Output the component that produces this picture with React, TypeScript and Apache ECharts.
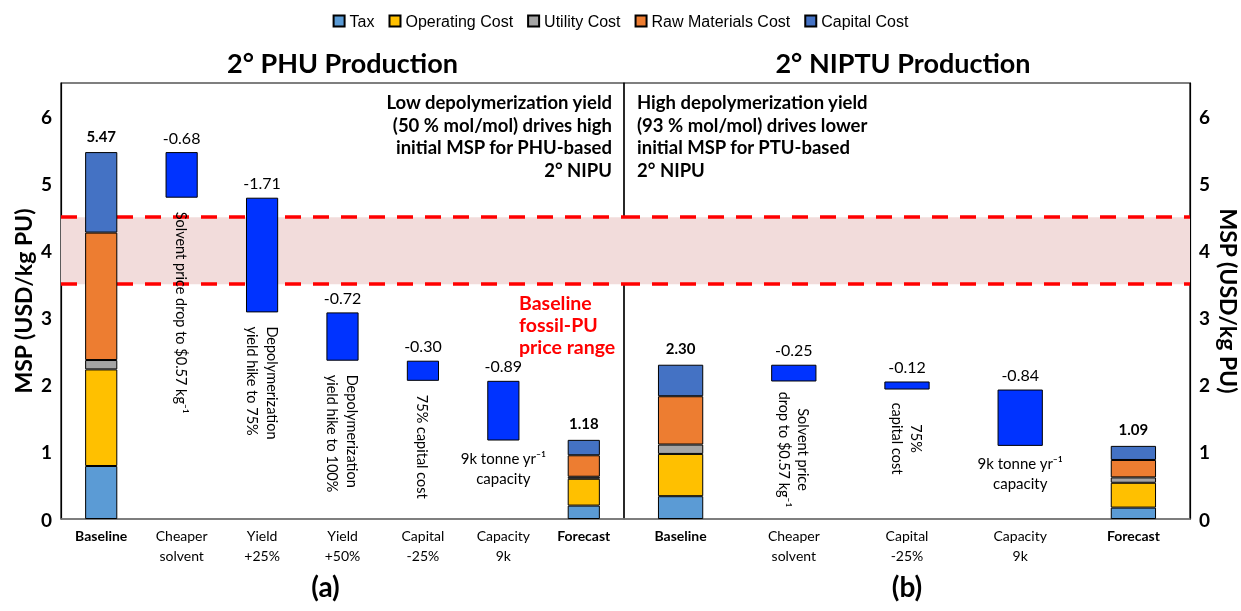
import { useEffect, useRef } from 'react';
import * as echarts from 'echarts';

const legendNames = ['Tax', 'Operating Cost', 'Utility Cost', 'Raw Materials Cost', 'Capital Cost'];
const costColors = ['#5B9BD5', '#FFC000', '#A5A5A5', '#ED7D31', '#4472C4'];
const stepColor = '#0033FF';

const catsA = ['Baseline', 'Cheaper\nsolvent', 'Yield\n+25%', 'Yield\n+50%', 'Capital\n-25%', 'Capacity\n9k', 'Forecast'];
const catsB = ['Baseline', 'Cheaper\nsolvent', 'Capital\n-25%', 'Capacity\n9k', 'Forecast'];

// cost breakdown: [tax, operating, utility, raw materials, capital]
const baselineA = [0.79, 1.44, 0.14, 1.90, 1.20];
const forecastA = [0.20, 0.40, 0.03, 0.32, 0.23];
const baselineB = [0.34, 0.63, 0.14, 0.72, 0.47];
const forecastB = [0.17, 0.37, 0.08, 0.26, 0.21];

const totalsA = [5.47, 1.18];
const totalsB = [2.30, 1.09];

const stepsA = [-0.68, -1.71, -0.72, -0.30, -0.89];
const stepsB = [-0.25, -0.12, -0.84];

const fossilRange = [3.5, 4.5];

const yTickLabels = ['0', '1', '2', '3', '4', '5', '6'];

const CAL = 'Lato, "Open Sans", sans-serif';
const ARN = '"Liberation Sans Narrow", "Liberation Sans", Arial, sans-serif';

function buildPanel(cats: string[], base: number[], fore: number[], totals: number[], steps: number[], idx: number) {
  const last = cats.length - 1;
  const series: any[] = [];
  legendNames.forEach((name, k) => {
    const s: any = {
      name,
      type: 'bar',
      stack: 'p' + idx,
      xAxisIndex: idx,
      yAxisIndex: idx,
      barWidth: '40%',
      z: 10,
      itemStyle: { color: costColors[k], borderColor: '#000', borderWidth: 1 },
      data: cats.map((_, i) => (i === 0 ? base[k] : i === last ? fore[k] : '-')),
    };
    if (k === legendNames.length - 1) {
      s.label = {
        show: true,
        position: 'top',
        distance: 9,
        fontFamily: CAL,
        fontWeight: 'bold',
        fontSize: 15,
        color: '#000',
        formatter: (p: any) => (p.dataIndex === 0 ? totals[0] : totals[1]).toFixed(2),
      };
    }
    if (k === 0) {
      s.markArea = {
        silent: true,
        itemStyle: { color: '#F2DCDB' },
        data: [[{ yAxis: fossilRange[0] }, { yAxis: fossilRange[1] }]],
      };
      s.markLine = {
        silent: true,
        symbol: 'none',
        label: { show: false },
        lineStyle: { color: '#FF0000', width: 3.5, type: [16, 12] },
        data: [{ yAxis: fossilRange[0] }, { yAxis: fossilRange[1] }],
      };
    }
    series.push(s);
  });
  // waterfall
  const ends: any[] = cats.map(() => '-');
  const deltas: any[] = cats.map(() => '-');
  let run = totals[0];
  steps.forEach((st, j) => {
    run = run + st;
    ends[j + 1] = +run.toFixed(2);
    deltas[j + 1] = -st;
  });
  series.push({
    name: 'base' + idx,
    type: 'bar',
    stack: 'p' + idx,
    xAxisIndex: idx,
    yAxisIndex: idx,
    barWidth: '40%',
    silent: true,
    z: 10,
    itemStyle: { color: 'rgba(0,0,0,0)', borderWidth: 0 },
    data: ends,
  });
  series.push({
    name: 'change' + idx,
    type: 'bar',
    stack: 'p' + idx,
    xAxisIndex: idx,
    yAxisIndex: idx,
    barWidth: '40%',
    z: 10,
    itemStyle: { color: stepColor, borderColor: '#000', borderWidth: 1 },
    label: {
      show: true,
      position: 'top',
      distance: 7,
      fontFamily: CAL,
      fontSize: 16,
      color: '#000',
      formatter: (p: any) => steps[p.dataIndex - 1].toFixed(2),
    },
    data: deltas,
  });
  return { series, ends };
}

export default function App() {
  const ref = useRef<HTMLDivElement>(null);
  useEffect(() => {
    document.body.style.margin = '0';
    const chart = echarts.init(ref.current!, null, { renderer: 'svg' });
    const A = buildPanel(catsA, baselineA, forecastA, totalsA, stepsA, 0);
    const B = buildPanel(catsB, baselineB, forecastB, totalsB, stepsB, 1);

    const xAxisBase = (data: string[], gridIndex: number) => ({
      type: 'category',
      gridIndex,
      data,
      axisTick: { show: false },
      axisLine: { lineStyle: { color: '#7F7F7F', width: 1.5 } },
      axisLabel: {
        interval: 0,
        margin: 6,
        fontFamily: CAL,
        fontSize: 14,
        lineHeight: 20,
        color: '#000',
        formatter: (v: string) => (v === 'Baseline' || v === 'Forecast' ? '{b|' + v + '}' : v),
        rich: { b: { fontFamily: CAL, fontSize: 14, fontWeight: 'bold', color: '#000' } },
      },
    });
    const yAxisBase = (gridIndex: number, position: string) => ({
      type: 'value',
      gridIndex,
      position,
      min: 0,
      max: 6.5,
      interval: 1,
      splitLine: { show: false },
      axisTick: { show: false },
      axisLine: { show: true, lineStyle: { color: '#000', width: 1.2 } },
      axisLabel: {
        showMaxLabel: false,
        margin: 9,
        fontFamily: CAL,
        fontWeight: 'bold',
        fontSize: 19,
        color: '#000',
        formatter: (v: number) => (Number.isInteger(v) ? yTickLabels[v] : ''),
      },
      name: 'MSP (USD/kg PU)',
      nameLocation: 'middle',
      nameGap: 27,
      nameRotate: position === 'right' ? -90 : 90,
      nameTextStyle: { fontFamily: CAL, fontWeight: 'bold', fontSize: 23, color: '#000' },
    });

    chart.setOption({
      animation: false,
      legend: {
        data: legendNames,
        top: 8,
        left: 'center',
        itemWidth: 11,
        itemHeight: 11,
        itemGap: 14,
        icon: 'rect',
        textStyle: { fontFamily: ARN, fontSize: 16, color: '#000' },
      },
      grid: [
        { left: 61, right: 617, top: 83, bottom: 92, show: true, borderColor: '#000', borderWidth: 1.2 },
        { left: 624, right: 51, top: 83, bottom: 92, show: true, borderColor: '#000', borderWidth: 1.2 },
      ],
      xAxis: [xAxisBase(catsA, 0), xAxisBase(catsB, 1)],
      yAxis: [yAxisBase(0, 'left'), yAxisBase(1, 'right')],
      series: [...A.series, ...B.series],
    });

    const px = (g: number, c: number, v: number) => chart.convertToPixel({ gridIndex: g } as any, [c, v]) as number[];
    const txt = (x: number, y: number, text: string, o: any = {}) => ({
      type: 'text',
      x,
      y,
      rotation: o.rot || 0,
      z: 50,
      style: {
        text,
        fontFamily: CAL,
        fontSize: o.size || 15,
        fontWeight: o.bold ? 'bold' : 'normal',
        fill: o.color || '#000',
        align: o.align || 'center',
        verticalAlign: o.va || 'middle',
        lineHeight: o.lh || 19,
      },
    });
    const rot = -Math.PI / 2;
    const g: any[] = [];
    const titleA = px(0, 3, 0);
    const titleB = px(1, 2, 0);
    g.push(txt(titleA[0], 62, '2° PHU Production', { size: 27, bold: true }));
    g.push(txt(titleB[0] - 4, 62, '2° NIPTU Production', { size: 27, bold: true }));
    g.push(txt(titleA[0] - 17, 586, '(a)', { size: 28, bold: true }));
    g.push(txt(titleB[0], 586, '(b)', { size: 28, bold: true }));
    g.push(
      txt(612, 136, 'Low depolymerization yield\n(50 % mol/mol) drives high\ninitial MSP for PHU-based\n2° NIPU', {
        size: 18.5,
        bold: true,
        align: 'right',
        lh: 22.5,
      })
    );
    g.push(
      txt(637, 136, 'High depolymerization yield\n(93 % mol/mol) drives lower\ninitial MSP for PTU-based\n2° NIPU', {
        size: 18.5,
        bold: true,
        align: 'left',
        lh: 22.5,
      })
    );
    g.push(txt(519, 324, 'Baseline\nfossil-PU\nprice range', { size: 19.5, bold: true, align: 'left', color: '#FF0000', lh: 22 }));

    // rotated step descriptions, panel (a)
    const descA = [
      'Solvent price drop to $0.57 kg⁻¹',
      'Depolymerization\nyield hike to 75%',
      'Depolymerization\nyield hike to 100%',
      '75% capital cost',
    ];
    descA.forEach((t, j) => {
      const p = px(0, j + 1, A.ends[j + 1]);
      g.push(txt(p[0], p[1] + 14, t, { rot, align: 'left', size: 14.5, lh: 20 }));
    });
    const capA = px(0, 5, A.ends[5]);
    g.push(txt(capA[0], capA[1] + 7, '9k tonne yr⁻¹\ncapacity', { va: 'top', size: 15, lh: 20 }));

    // panel (b)
    const sB = px(1, 1, B.ends[1]);
    g.push(txt(sB[0], sB[1] + 68, 'Solvent price\ndrop to $0.57 kg⁻¹', { rot, size: 14.5, lh: 19 }));
    const cB = px(1, 2, B.ends[2]);
    g.push(txt(cB[0], cB[1] + 49, '75%\ncapital cost', { rot, size: 14.5, lh: 19 }));
    const kB = px(1, 3, B.ends[3]);
    g.push(txt(kB[0], kB[1] + 7, '9k tonne yr⁻¹\ncapacity', { va: 'top', size: 15, lh: 20 }));

    chart.setOption({ graphic: g });
    return () => chart.dispose();
  }, []);
  return <div ref={ref} style={{ position: 'fixed', left: 0, top: 0, width: 1241, height: 611 }} />;
}
